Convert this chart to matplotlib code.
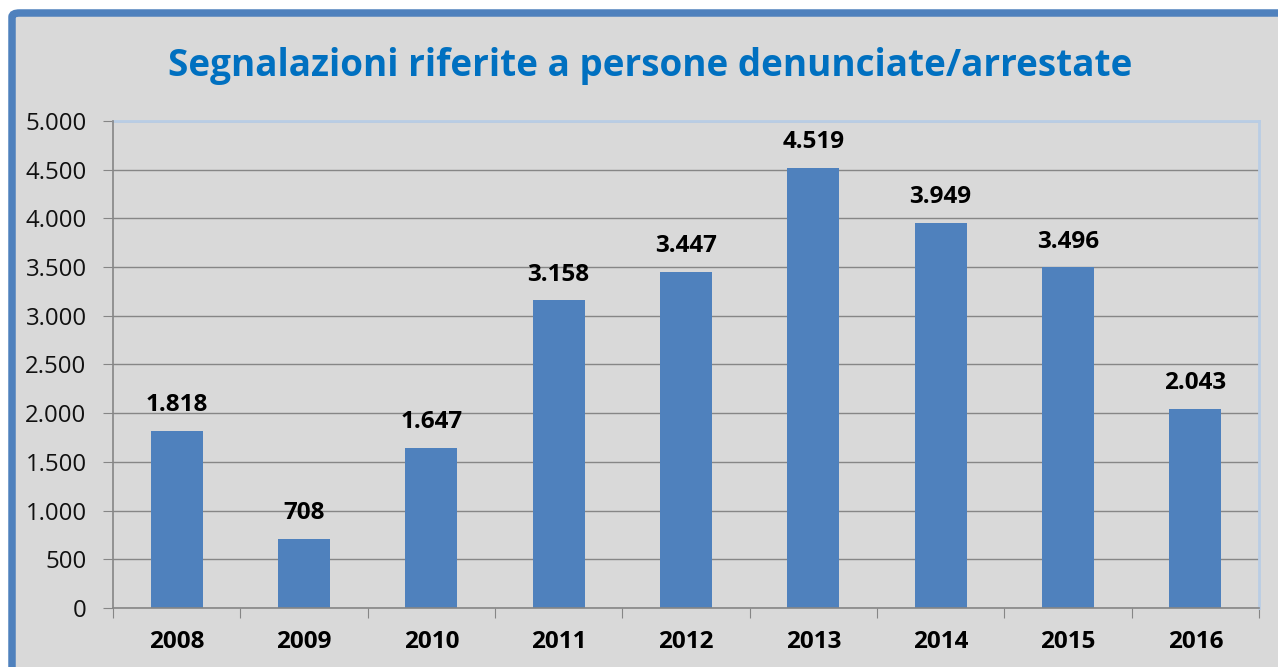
import matplotlib
matplotlib.use("Agg")
import matplotlib.pyplot as plt
from matplotlib.patches import FancyBboxPatch

# data
years = ["2008", "2009", "2010", "2011", "2012", "2013", "2014", "2015", "2016"]
values = [1818, 708, 1647, 3158, 3447, 4519, 3949, 3496, 2043]
y_ticks = [0, 500, 1000, 1500, 2000, 2500, 3000, 3500, 4000, 4500, 5000]

title = "Segnalazioni riferite a persone denunciate/arrestate"


def it_fmt(v):
    # italian thousands separator
    return f"{v:,}".replace(",", ".")


plt.rcParams['font.family'] = ['Open Sans', 'DejaVu Sans']

W, H = 1278, 667
fig = plt.figure(figsize=(W / 100, H / 100), dpi=100)
fig.patch.set_facecolor("white")

# gray chart frame with blue border, cut off on the right and bottom
frame = FancyBboxPatch((12 / W, -30 / H), (W + 40) / W, (H - 13 + 30) / H,
                       boxstyle="round,pad=0,rounding_size=0.006",
                       transform=fig.transFigure, facecolor="#d9d9d9",
                       edgecolor="#4f81bd", linewidth=7.5 * 0.72, zorder=-10)
fig.patches.append(frame)

ax = fig.add_axes([113 / W, 59 / H, 1146 / W, 487 / H])
ax.set_facecolor("#d9d9d9")

x = range(len(years))
bars = ax.bar(x, values, width=0.41, color="#4f81bd", zorder=3)

for xi, v in zip(x, values):
    ax.annotate(it_fmt(v), (xi, v), xytext=(0, 10), textcoords="offset points",
                ha="center", va="bottom", fontsize=17.5, fontweight="bold",
                color="black")

ax.set_xlim(-0.5, len(years) - 0.5)
ax.set_ylim(0, 5000)
ax.set_yticks(y_ticks)
ax.set_yticklabels([it_fmt(v) for v in y_ticks], fontsize=17.3, color="#111111")
ax.yaxis.grid(True, color="#868686", linewidth=1.0, zorder=1)

# x ticks sit between categories, labels in the middle
ax.set_xticks([i - 0.5 for i in range(len(years) + 1)])
ax.set_xticklabels([])
ax.set_xticks(list(x), minor=True)
ax.set_xticklabels(years, minor=True, fontsize=17.5, fontweight="bold")
ax.tick_params(axis="x", which="minor", length=0, pad=16)
ax.tick_params(axis="x", which="major", length=7, color="#868686", direction="out")
ax.tick_params(axis="y", length=7, color="#868686", direction="out", pad=12)

for s in ["top", "right"]:
    ax.spines[s].set_color("#b9cde5")
    ax.spines[s].set_linewidth(2)
for s in ["left", "bottom"]:
    ax.spines[s].set_color("#868686")
    ax.spines[s].set_linewidth(1.2)
    ax.spines[s].set_zorder(4)

fig.text(650 / W, 1 - 66 / H, title, ha="center", va="center",
         fontsize=26.6, fontweight="bold", color="#0070c0")

fig.savefig("out.png", dpi=100)
